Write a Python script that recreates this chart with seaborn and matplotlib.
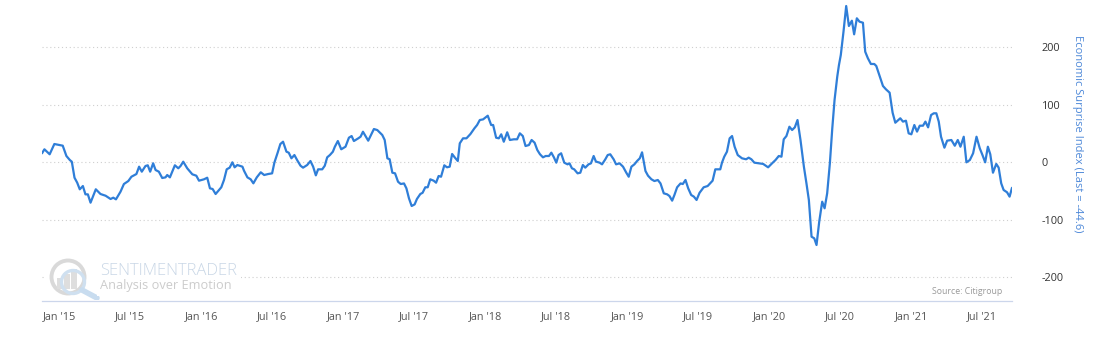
import matplotlib
matplotlib.use("Agg")
import matplotlib.pyplot as plt
import seaborn as sns
import pandas as pd
from matplotlib.patches import Circle, Rectangle

# ---------------- data (decimal year, index value) ----------------
years = [
    2014.874, 2014.891, 2014.928, 2014.961, 2015.020, 2015.046, 2015.070, 2015.084, 2015.103, 2015.122,
    2015.140, 2015.162, 2015.180, 2015.197, 2015.216, 2015.253, 2015.286, 2015.322, 2015.357, 2015.376,
    2015.395, 2015.427, 2015.451, 2015.482,
    2015.504, 2015.539, 2015.558, 2015.577, 2015.603, 2015.619, 2015.636, 2015.657, 2015.674, 2015.697,
    2015.721, 2015.744, 2015.756, 2015.775, 2015.810, 2015.834, 2015.850, 2015.869, 2015.897, 2015.933,
    2015.961, 2015.980, 2016.015, 2016.038, 2016.057, 2016.076, 2016.097, 2016.137, 2016.156, 2016.175,
    2016.196, 2016.215, 2016.231, 2016.250, 2016.286, 2016.297, 2016.321, 2016.344, 2016.363, 2016.387,
    2016.415, 2016.439, 2016.467, 2016.495,
    2016.511, 2016.534, 2016.553, 2016.572, 2016.596, 2016.612, 2016.631, 2016.652, 2016.671, 2016.695,
    2016.713, 2016.742, 2016.765, 2016.784, 2016.803, 2016.819, 2016.848, 2016.866, 2016.883, 2016.902,
    2016.923, 2016.937, 2016.958, 2016.982, 2017.012, 2017.036, 2017.055, 2017.071, 2017.102, 2017.118,
    2017.135, 2017.153, 2017.172, 2017.212, 2017.236, 2017.259, 2017.271, 2017.288, 2017.307, 2017.323,
    2017.342, 2017.361, 2017.382, 2017.401, 2017.424, 2017.441, 2017.459, 2017.478, 2017.499,
    2017.515, 2017.539, 2017.555, 2017.574, 2017.591, 2017.609, 2017.633, 2017.650, 2017.668, 2017.685,
    2017.708, 2017.727, 2017.746, 2017.763, 2017.781, 2017.803, 2017.817, 2017.840, 2017.864, 2017.892,
    2017.920, 2017.939, 2017.958, 2017.981, 2018.014, 2018.038, 2018.052, 2018.073, 2018.092, 2018.109,
    2018.127, 2018.151, 2018.170, 2018.198, 2018.221, 2018.240, 2018.261, 2018.280, 2018.304, 2018.323,
    2018.344, 2018.363, 2018.382, 2018.403, 2018.422, 2018.445, 2018.462, 2018.480, 2018.497,
    2018.513, 2018.531, 2018.553, 2018.576, 2018.590, 2018.607, 2018.623, 2018.647, 2018.666, 2018.684,
    2018.701, 2018.724, 2018.741, 2018.760, 2018.776, 2018.802, 2018.819, 2018.842, 2018.859, 2018.877,
    2018.901, 2018.918, 2018.943, 2018.967, 2018.990, 2019.007, 2019.026, 2019.047, 2019.066, 2019.085,
    2019.101, 2019.125, 2019.143, 2019.167, 2019.188, 2019.212, 2019.231, 2019.254, 2019.278, 2019.294,
    2019.313, 2019.329, 2019.348, 2019.372, 2019.388, 2019.407, 2019.426, 2019.447, 2019.466, 2019.485,
    2019.506, 2019.535, 2019.563, 2019.598, 2019.617, 2019.652, 2019.664, 2019.680, 2019.699, 2019.718,
    2019.735, 2019.753, 2019.775, 2019.805, 2019.834, 2019.852, 2019.871, 2019.892, 2019.923, 2019.954,
    2019.989, 2020.017, 2020.041, 2020.064, 2020.083, 2020.099, 2020.118, 2020.139, 2020.158, 2020.177,
    2020.196, 2020.217, 2020.241, 2020.259, 2020.276, 2020.295, 2020.314, 2020.330, 2020.349, 2020.370,
    2020.387, 2020.405, 2020.424, 2020.441, 2020.457, 2020.476, 2020.488,
    2020.501, 2020.520, 2020.539, 2020.558, 2020.579, 2020.595, 2020.614, 2020.633, 2020.657, 2020.673,
    2020.692, 2020.713, 2020.737, 2020.751, 2020.772, 2020.798, 2020.819, 2020.845, 2020.866, 2020.885,
    2020.901, 2020.920, 2020.939, 2020.960, 2020.979, 2020.998, 2021.019, 2021.038, 2021.057, 2021.080,
    2021.097, 2021.116, 2021.137, 2021.156, 2021.174, 2021.191, 2021.207, 2021.231, 2021.250, 2021.280,
    2021.304, 2021.325, 2021.344, 2021.367, 2021.386, 2021.410, 2021.433, 2021.457, 2021.480, 2021.499,
    2021.518, 2021.537, 2021.554, 2021.573, 2021.596, 2021.613, 2021.631, 2021.648, 2021.672, 2021.690,
    2021.707,
]

surprise_index = [
    15.5, 22.5, 13.8, 31.7, 28.8, 10.8, 3.8, 0.9, -27.0, -35.7,
    -47.2, -41.5, -56.0, -56.0, -70.5, -47.2, -55.4, -58.4, -64.1, -61.8,
    -64.7, -51.4, -38.0, -32.8,
    -25.3, -20.6, -7.8, -16.5, -6.6, -5.4, -16.5, -1.9, -13.6, -16.5,
    -27.5, -26.4, -22.3, -26.4, -5.4, -10.6, -6.6, 0.9, -10.6, -21.1,
    -23.5, -32.2, -29.8, -27.0, -45.5, -46.7, -55.4, -43.7, -31.0, -12.4,
    -9.5, -0.2, -8.9, -4.9, -7.8, -14.8, -26.4, -29.8, -36.8, -26.4,
    -17.6, -22.3, -20.6, -19.4,
    -0.7, 16.6, 31.7, 35.7, 18.3, 16.6, 6.8, 12.5, 3.8, -6.1,
    -9.5, -4.9, 2.1, -7.8, -22.9, -12.4, -12.4, -6.1, 8.5, 12.5,
    18.3, 27.0, 36.9, 22.5, 27.0, 42.7, 45.6, 36.9, 41.6, 44.4,
    53.1, 45.6, 37.5, 57.8, 56.0, 50.3, 47.4, 38.7, 6.8, 5.1,
    -18.3, -19.4, -34.0, -38.0, -37.0, -45.5, -62.9, -76.3, -73.5,
    -64.1, -55.4, -53.3, -43.7, -43.7, -29.8, -32.2, -35.7, -24.0, -25.3,
    -5.4, -8.9, -7.8, 14.3, 8.5, 2.1, 32.9, 41.6, 41.6, 49.1,
    59.0, 64.8, 73.5, 74.6, 81.0, 64.8, 64.8, 42.7, 41.6, 48.6,
    35.7, 52.1, 38.7, 39.9, 39.9, 50.3, 45.6, 28.2, 29.9, 38.7,
    34.0, 21.3, 13.8, 8.5, 10.8, 10.8, 16.6, 8.5, -0.8,
    12.5, 15.5, -0.8, -3.7, -2.0, -10.6, -12.4, -19.4, -18.3, -4.9,
    -9.5, -3.7, -2.0, 10.8, 1.1, -0.8, -3.7, 5.0, 12.5, 13.8,
    5.0, -3.7, -2.0, -7.8, -18.3, -25.3, -7.8, -3.7, 2.1, 6.8,
    17.2, -15.3, -23.5, -29.8, -32.8, -31.0, -37.0, -54.2, -56.0, -58.9,
    -67.0, -57.1, -43.7, -37.0, -38.0, -31.0, -45.5, -57.1, -60.0, -65.8,
    -53.3, -43.7, -41.5, -32.2, -12.4, -12.4, -0.8, 9.6, 18.3, 41.6,
    45.6, 27.0, 12.5, 6.8, 5.1, 7.9, 5.1, -0.8, -1.9, -3.0,
    -8.9, -1.9, 3.8, 10.8, 9.6, 39.9, 45.6, 61.8, 56.1, 60.7,
    73.5, 38.7, -7.8, -36.8, -65.8, -129.8, -132.6, -144.3, -103.6, -68.8,
    -80.3, -54.2, -1.9, 59.0, 108.4, 149.0, 169.3,
    186.8, 227.4, 272.1, 237.3, 246.5, 222.8, 250.7, 244.8, 243.0, 192.5,
    181.0, 171.1, 171.1, 167.6, 151.9, 132.8, 127.0, 121.1, 86.2, 68.8,
    72.3, 76.5, 70.7, 72.3, 50.3, 48.6, 64.8, 53.3, 63.6, 63.6,
    70.7, 60.7, 82.2, 85.2, 85.2, 70.7, 44.4, 25.3, 37.5, 38.7,
    28.7, 38.7, 27.0, 44.4, -0.2, 3.8, 15.5, 44.4, 24.2, 12.5,
    -0.2, 27.0, 13.8, -18.3, -3.0, -9.5, -36.8, -48.4, -52.4, -60.0,
    -44.6,
]

y_ticks = [-200, -100, 0, 100, 200]
y_tick_labels = ["-200", "-100", "0", "100", "200"]
tick_years = [2015, 2016, 2017, 2018, 2019, 2020, 2021]
y_title = "Economic Surprise Index (Last = -44.6)"
source_text = "Source: Citigroup"

# ---------------- style ----------------
sns.set_style("white")
plt.rcParams["font.family"] = ["Open Sans", "DejaVu Sans"]
plt.rcParams["axes.unicode_minus"] = False

W, H = 1095, 339
fig = plt.figure(figsize=(W / 100, H / 100), dpi=100)
fig.patch.set_facecolor("white")

ax = fig.add_axes([42 / W, 1 - 301 / H, 970 / W, 299 / H])
ax.set_facecolor("white")

df = pd.DataFrame({"t": years, "v": surprise_index})
sns.lineplot(data=df, x="t", y="v", ax=ax, color="#2f7ed8", linewidth=1.6,
             sort=False, zorder=4)

ax.set_xlim(min(years), max(years))
ax.set_ylim(-241.8, 279.1)

# x ticks (Jan / Jul)
pos, labs = [], []
for yr in tick_years:
    leap = (yr % 4 == 0)
    pos.append(yr)
    labs.append(f"Jan '{yr % 100:02d}")
    pos.append(yr + (182 if leap else 181) / (366 if leap else 365))
    labs.append(f"Jul '{yr % 100:02d}")
ax.set_xticks(pos)
ax.set_xticklabels(labs)
ax.tick_params(axis="x", direction="out", length=5.8, width=0.8, color="#ccd6eb",
               labelsize=7.8, labelcolor="#555555", pad=1.5)

# y axis on right
ax.yaxis.tick_right()
ax.set_yticks(y_ticks)
ax.set_yticklabels(y_tick_labels)
ax.tick_params(axis="y", length=0, pad=21.6, labelsize=7.8, labelcolor="#333333")
ax.set_xlabel("")
ax.set_ylabel("")

ax.grid(axis="y", color="#cfcfcf", linestyle=(0, (1, 2.5)), linewidth=0.8, zorder=0)
ax.grid(axis="x", visible=False)
for s in ["left", "top", "right"]:
    ax.spines[s].set_visible(False)
ax.spines["bottom"].set_color("#ccd6eb")
ax.spines["bottom"].set_linewidth(0.9)

fig.text(1077 / W, 1 - 134 / H, y_title, rotation=270, ha="center", va="center",
         color="#4d88d8", fontsize=8)
fig.text(1002 / W, 1 - 291 / H, source_text, ha="right", va="center",
         color="#9a9a9a", fontsize=6.3)

# ---------------- watermark ----------------
fig.patches.append(Rectangle((97 / W, 1 - 296 / H), 144 / W, 35 / H,
                             transform=fig.transFigure, facecolor="white",
                             edgecolor="none", zorder=1))
lax = fig.add_axes([45 / W, 1 - 300 / H, 60 / W, 42 / H])
lax.set_xlim(0, 60)
lax.set_ylim(42, 0)
lax.axis("off")
lax.add_patch(Rectangle((0, 0), 60, 42, facecolor="white", edgecolor="none"))
lax.add_patch(Circle((23, 19), 16.5, fill=False, edgecolor="#d9d9d9", linewidth=2.8))
for bx, bh in [(12, 11), (19, 15), (26, 20)]:
    lax.add_patch(Rectangle((bx, 31 - bh), 6, bh, facecolor="#dedede", edgecolor="none"))
lax.add_patch(Circle((28, 24), 11.5, fill=False, edgecolor="#cfe0f0", linewidth=2.4))
lax.plot([37, 52], [32, 40], color="#c8dcef", linewidth=4, solid_capstyle="round")

fig.text(100 / W, 1 - 271 / H, "SENTIMENTRADER", ha="left", va="center",
         color="#c9d7e6", fontsize=12, fontweight="light", zorder=5)
fig.text(100 / W, 1 - 285.5 / H, "Analysis over Emotion", ha="left", va="center",
         color="#cccccc", fontsize=9.2, zorder=5)

fig.savefig("out.png", dpi=100, facecolor="white")
